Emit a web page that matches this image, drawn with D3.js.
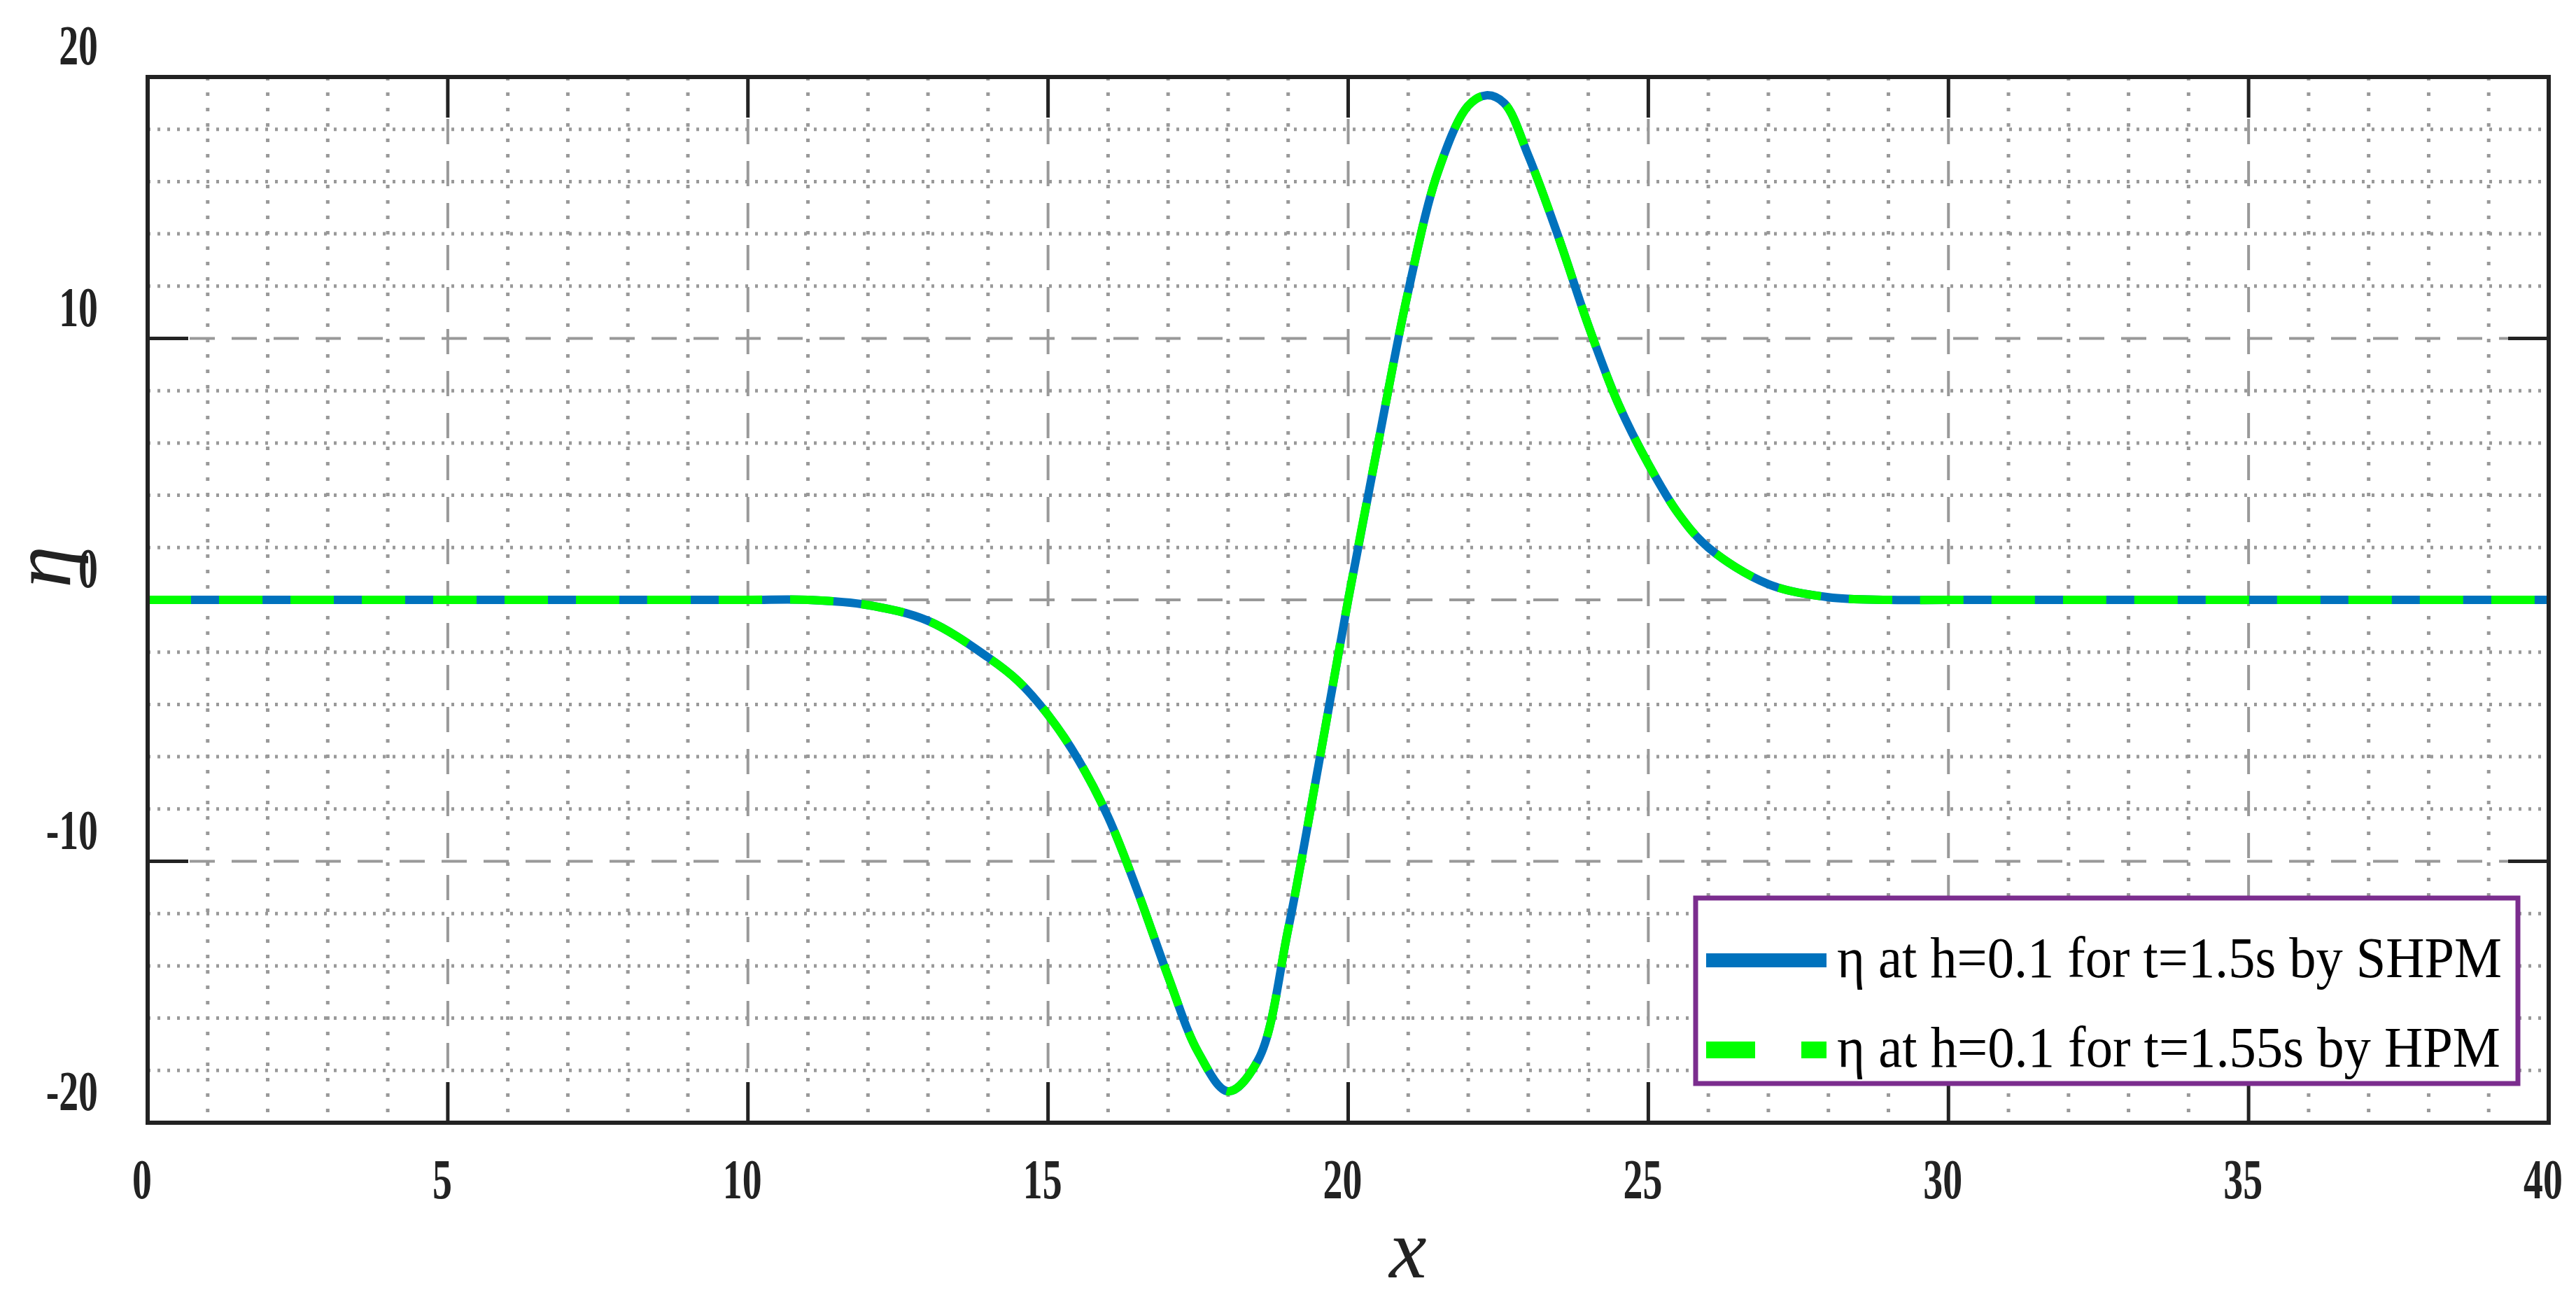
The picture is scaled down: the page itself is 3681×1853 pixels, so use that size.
<!DOCTYPE html>
<html><head><meta charset="utf-8">
<script src="https://cdn.jsdelivr.net/npm/d3@7"></script>
<style>body{margin:0;background:#fff}svg{display:block}</style>
</head><body>
<svg id="c" width="3681" height="1853"></svg>
<script>
const xs = [0,2,4,6,8,10,11,12,13,14,14.5,15,15.5,16,16.5,17,17.5,18,18.5,19,19.5,20,20.5,21,21.5,22,22.3,22.6,23,23.5,24,24.5,25,25.5,26,27,28,29,30,32,34,36,38,40];
const ys = [0,0,0,0,0,0,0,-0.2,-0.8,-2.2,-3.1,-4.4,-6.1,-8.3,-11.2,-14.4,-17.3,-18.8,-17.6,-12.6,-6.4,0,6,11.8,16.4,18.9,19.3,19,17,13.9,10.5,7.5,5.2,3.3,2.0,0.6,0.1,0,0,0,0,0,0,0];
const xTicks = [0,5,10,15,20,25,30,35,40];
const yTicks = [-20,-10,0,10,20];
const legendLabels = ["η at h=0.1 for t=1.5s by SHPM","η at h=0.1 for t=1.55s by HPM"];

const L=211,R=3642,T=110,B=1604;
const svg=d3.select("#c");
const x=d3.scaleLinear().domain([0,40]).range([L,R]);
const y=d3.scaleLinear().domain([-20,20]).range([B,T]);
const g=svg.append("g");
d3.range(1,40).filter(v=>v%5).forEach(v=>g.append("line").attr("x1",x(v)).attr("x2",x(v)).attr("y1",T).attr("y2",B).attr("stroke","#999").attr("stroke-width",5).attr("stroke-dasharray","5 17"));
d3.range(-18,20,2).filter(v=>v%10).forEach(v=>g.append("line").attr("x1",L).attr("x2",R).attr("y1",y(v)).attr("y2",y(v)).attr("stroke","#999").attr("stroke-width",5).attr("stroke-dasharray","4 10"));
xTicks.slice(1,-1).forEach(v=>g.append("line").attr("x1",x(v)).attr("x2",x(v)).attr("y1",T).attr("y2",B).attr("stroke","#999").attr("stroke-width",4).attr("stroke-dasharray","36 24"));
yTicks.slice(1,-1).forEach(v=>g.append("line").attr("x1",L).attr("x2",R).attr("y1",y(v)).attr("y2",y(v)).attr("stroke","#999").attr("stroke-width",4).attr("stroke-dasharray","36 24"));
const tl=58;
xTicks.forEach(v=>{g.append("line").attr("x1",x(v)).attr("x2",x(v)).attr("y1",B).attr("y2",B-tl).attr("stroke","#222").attr("stroke-width",5);
 g.append("line").attr("x1",x(v)).attr("x2",x(v)).attr("y1",T).attr("y2",T+tl).attr("stroke","#222").attr("stroke-width",5);});
yTicks.forEach(v=>{g.append("line").attr("x1",L).attr("x2",L+tl).attr("y1",y(v)).attr("y2",y(v)).attr("stroke","#222").attr("stroke-width",5);
 g.append("line").attr("x1",R).attr("x2",R-tl).attr("y1",y(v)).attr("y2",y(v)).attr("stroke","#222").attr("stroke-width",5);});
const data=xs.map((v,i)=>[v,ys[i]]);
const line=d3.line().x(d=>x(d[0])).y(d=>y(d[1])).curve(d3.curveCatmullRom.alpha(0.5));
g.append("path").attr("d",line(data)).attr("fill","none").attr("stroke","#0072BD").attr("stroke-width",12);
g.append("path").attr("d",line(data)).attr("fill","none").attr("stroke","#00FF00").attr("stroke-width",12).attr("stroke-dasharray","62 40");
g.append("rect").attr("x",L).attr("y",T).attr("width",R-L).attr("height",B-T).attr("fill","none").attr("stroke","#222").attr("stroke-width",6);
const font="'Liberation Serif','DejaVu Serif',serif";
xTicks.forEach(v=>svg.append("text").attr("transform",`translate(${x(v)-8},1712) scale(0.9,1.3)`).attr("text-anchor","middle").attr("font-family",font).attr("font-weight","bold").attr("font-size",62).attr("fill","#222").text(v));
yTicks.forEach(v=>svg.append("text").attr("transform",`translate(140,${y(v)-18}) scale(0.9,1.3)`).attr("text-anchor","end").attr("font-family",font).attr("font-weight","bold").attr("font-size",62).attr("fill","#222").text(v));
svg.append("text").attr("x",2012).attr("y",1825).attr("text-anchor","middle").attr("font-family",font).attr("font-style","italic").attr("font-size",120).attr("fill","#222").text("x");
svg.append("text").attr("transform","translate(100,810) rotate(-90)").attr("text-anchor","middle").attr("font-family",font).attr("font-style","italic").attr("font-size",120).attr("fill","#222").text("η");
const lg=svg.append("g");
lg.append("rect").attr("x",2423).attr("y",1283).attr("width",1175).attr("height",265).attr("fill","#fff").attr("stroke","#7B2D8E").attr("stroke-width",7);
const colors=["#0072BD","#00FF00"],dash=[null,"70 66"];
legendLabels.forEach((t,i)=>{const yy=1372+i*128;
 lg.append("line").attr("x1",2438).attr("x2",2610).attr("y1",yy).attr("y2",yy).attr("stroke",colors[i]).attr("stroke-width",i?24:20).attr("stroke-dasharray",dash[i]);
 lg.append("text").attr("transform",`translate(2625,${yy+24}) scale(1,1.25)`).attr("font-family",font).attr("font-size",66).attr("fill","#000").attr("textLength",i?948:950).attr("lengthAdjust","spacingAndGlyphs").text(t);});
</script></body></html>
